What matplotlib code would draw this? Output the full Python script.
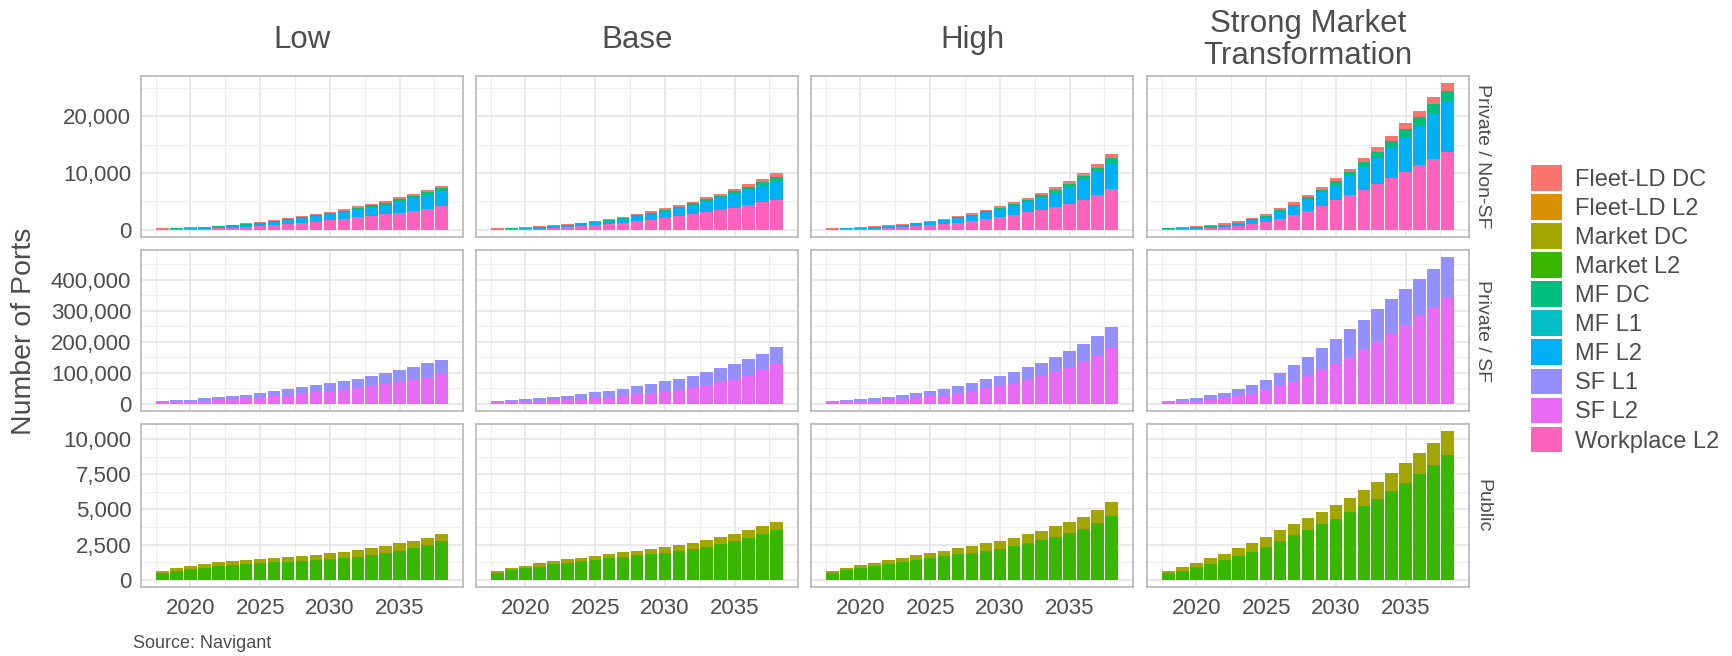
import matplotlib
matplotlib.use("Agg")
import matplotlib.pyplot as plt
from matplotlib.patches import Patch
from matplotlib.ticker import FuncFormatter, MultipleLocator
import numpy as np

plt.rcParams['font.family'] = ['Liberation Sans', 'DejaVu Sans']

# ---------------------------------------------------------------- data
years = list(range(2018, 2039))

scenarios = ["Low", "Base", "High", "Strong Market\nTransformation"]
segments = ["Private / Non-SF", "Private / SF", "Public"]

categories = ["Fleet-LD DC", "Fleet-LD L2", "Market DC", "Market L2", "MF DC",
              "MF L1", "MF L2", "SF L1", "SF L2", "Workplace L2"]
palette = ["#F8766D", "#D89000", "#A3A500", "#39B600", "#00BF7D",
           "#00BFC4", "#00B0F6", "#9590FF", "#E76BF3", "#FF62BC"]

# Private / Non-SF
low_workplace_l2 = [40, 70, 110, 170, 250, 340, 450, 580, 740, 920, 1130, 1370, 1620, 1880, 2150, 2420, 2700, 3000, 3330, 3720, 4120]
low_mf_l2 = [120, 135, 190, 230, 300, 360, 440, 500, 640, 760, 850, 960, 1060, 1210, 1410, 1500, 1690, 1980, 2180, 2420, 2660]
low_mf_dc = [20, 25, 30, 40, 50, 60, 80, 100, 130, 160, 190, 220, 260, 290, 320, 350, 380, 410, 440, 480, 520]
low_fleet_dc = [50, 60, 70, 80, 100, 110, 130, 150, 170, 190, 210, 230, 250, 270, 290, 310, 330, 350, 370, 390, 410]

base_workplace_l2 = [40, 70, 110, 200, 330, 460, 580, 810, 990, 1220, 1450, 1740, 2090, 2430, 2780, 3130, 3540, 3880, 4350, 4810, 5280]
base_mf_l2 = [120, 135, 200, 310, 330, 360, 440, 530, 600, 730, 920, 1110, 1230, 1420, 1580, 1970, 2060, 2500, 2730, 3060, 3360]
base_mf_dc = [20, 25, 30, 40, 50, 60, 70, 80, 100, 120, 140, 170, 200, 230, 270, 310, 350, 400, 470, 560, 700]
base_fleet_dc = [50, 60, 70, 90, 100, 110, 130, 150, 170, 190, 210, 230, 250, 270, 300, 330, 370, 410, 450, 500, 570]

high_workplace_l2 = [40, 70, 110, 190, 320, 450, 590, 800, 1000, 1250, 1530, 1880, 2250, 2650, 3100, 3550, 4050, 4600, 5300, 6150, 7100]
high_mf_l2 = [120, 145, 210, 280, 330, 380, 470, 550, 660, 800, 960, 1150, 1360, 1580, 1840, 2150, 2490, 2960, 3510, 4080, 4730]
high_mf_dc = [20, 25, 30, 40, 50, 60, 70, 90, 110, 140, 170, 200, 240, 280, 330, 380, 440, 520, 610, 720, 850]
high_fleet_dc = [50, 60, 70, 90, 100, 110, 130, 160, 180, 210, 240, 270, 300, 340, 380, 420, 470, 520, 580, 650, 720]

smt_workplace_l2 = [60, 100, 150, 250, 460, 700, 990, 1390, 1970, 2670, 3360, 4230, 5160, 6090, 7010, 8120, 9160, 10200, 11360, 12460, 13620]
smt_mf_l2 = [100, 160, 230, 260, 300, 410, 650, 870, 1200, 1440, 1930, 2340, 2800, 3290, 4010, 4630, 5340, 6200, 7060, 8020, 8990]
smt_mf_dc = [50, 70, 90, 110, 130, 150, 180, 220, 260, 310, 400, 500, 600, 720, 860, 1000, 1140, 1290, 1440, 1620, 1800]
smt_fleet_dc = [90, 130, 170, 190, 210, 240, 270, 300, 340, 390, 450, 520, 600, 680, 760, 850, 940, 1030, 1130, 1260, 1390]

# Private / SF
low_sf_l2 = [4000, 5500, 7000, 9000, 11500, 14000, 17000, 20500, 24000, 28000, 32500, 37000, 42000, 47500, 53000, 58500, 64500, 71000, 78500, 87000, 96300]
low_sf_l1 = [4000, 5000, 6500, 8000, 9500, 11000, 12500, 14000, 16000, 18000, 20000, 22000, 24000, 26000, 28000, 30500, 33500, 36500, 39500, 43000, 46200]

base_sf_l2 = [4000, 5500, 7000, 9000, 11000, 13500, 16500, 19500, 23000, 27000, 31500, 36000, 41500, 47000, 54000, 61500, 69500, 80000, 92000, 108000, 128400]
base_sf_l1 = [4000, 5500, 7000, 8500, 10500, 12500, 14500, 17000, 19500, 22000, 24500, 27500, 30500, 34000, 37000, 40500, 44500, 47000, 52000, 54000, 53600]

high_sf_l2 = [4000, 5500, 7500, 9500, 12500, 15500, 19500, 24000, 29000, 35000, 42000, 50000, 58500, 68000, 78000, 89500, 102000, 117000, 134000, 154000, 178600]
high_sf_l1 = [4000, 5500, 7000, 9000, 10500, 12500, 14500, 17000, 20000, 23000, 26000, 29000, 32500, 36000, 40000, 43500, 48000, 53000, 59000, 65000, 70400]

smt_sf_l2 = [4300, 6400, 9600, 13900, 18200, 25700, 34200, 43900, 57800, 72800, 91000, 110200, 129500, 152000, 175500, 201200, 227900, 254700, 282500, 312500, 343500]
smt_sf_l1 = [4300, 7500, 8600, 12900, 17100, 20300, 25700, 34200, 41700, 51300, 61000, 69600, 80200, 88800, 96300, 104800, 111300, 115600, 120900, 124100, 129500]

# Public
low_market_l2 = [500, 620, 730, 850, 950, 1040, 1110, 1180, 1230, 1280, 1350, 1400, 1470, 1540, 1640, 1730, 1900, 2040, 2250, 2490, 2730]
low_market_dc = [140, 230, 270, 290, 310, 310, 310, 310, 330, 360, 360, 380, 430, 450, 470, 520, 520, 570, 500, 470, 520]

base_market_l2 = [500, 650, 800, 930, 1080, 1190, 1300, 1400, 1510, 1610, 1720, 1820, 1930, 2060, 2200, 2360, 2560, 2770, 3000, 3250, 3520]
base_market_dc = [140, 170, 200, 220, 240, 260, 270, 290, 310, 330, 340, 360, 380, 400, 420, 440, 460, 490, 520, 540, 560]

high_market_l2 = [500, 660, 820, 970, 1120, 1260, 1400, 1530, 1660, 1790, 1910, 2050, 2210, 2380, 2580, 2800, 3040, 3320, 3620, 4060, 4570]
high_market_dc = [140, 170, 200, 230, 260, 300, 330, 370, 410, 450, 490, 530, 570, 610, 650, 700, 750, 800, 860, 910, 930]

smt_market_l2 = [470, 640, 880, 1140, 1370, 1710, 1990, 2350, 2730, 3150, 3530, 3960, 4340, 4790, 5260, 5780, 6350, 6920, 7560, 8200, 8890]
smt_market_dc = [170, 260, 300, 400, 450, 520, 620, 680, 780, 830, 830, 850, 990, 1040, 1140, 1210, 1280, 1370, 1440, 1560, 1680]

# stacks listed bottom -> top
panels = {
    ("Private / Non-SF", 0): [("Workplace L2", low_workplace_l2), ("MF L2", low_mf_l2), ("MF DC", low_mf_dc), ("Fleet-LD DC", low_fleet_dc)],
    ("Private / Non-SF", 1): [("Workplace L2", base_workplace_l2), ("MF L2", base_mf_l2), ("MF DC", base_mf_dc), ("Fleet-LD DC", base_fleet_dc)],
    ("Private / Non-SF", 2): [("Workplace L2", high_workplace_l2), ("MF L2", high_mf_l2), ("MF DC", high_mf_dc), ("Fleet-LD DC", high_fleet_dc)],
    ("Private / Non-SF", 3): [("Workplace L2", smt_workplace_l2), ("MF L2", smt_mf_l2), ("MF DC", smt_mf_dc), ("Fleet-LD DC", smt_fleet_dc)],
    ("Private / SF", 0): [("SF L2", low_sf_l2), ("SF L1", low_sf_l1)],
    ("Private / SF", 1): [("SF L2", base_sf_l2), ("SF L1", base_sf_l1)],
    ("Private / SF", 2): [("SF L2", high_sf_l2), ("SF L1", high_sf_l1)],
    ("Private / SF", 3): [("SF L2", smt_sf_l2), ("SF L1", smt_sf_l1)],
    ("Public", 0): [("Market L2", low_market_l2), ("Market DC", low_market_dc)],
    ("Public", 1): [("Market L2", base_market_l2), ("Market DC", base_market_dc)],
    ("Public", 2): [("Market L2", high_market_l2), ("Market DC", high_market_dc)],
    ("Public", 3): [("Market L2", smt_market_l2), ("Market DC", smt_market_dc)],
}

row_major = [10000, 100000, 2500]

# ---------------------------------------------------------------- layout
W, H = 1733, 656
fig = plt.figure(figsize=(W / 100, H / 100), dpi=100)
fig.patch.set_facecolor("white")

col_x = [141, 476, 811, 1147]
col_w = 322
row_y = [76, 250, 424]
row_h = [161, 161, 163]

text_col = "#4D4D4D"
color_of = dict(zip(categories, palette))


def rect(x0, y0, w, h):
    return [x0 / W, 1 - (y0 + h) / H, w / W, h / H]


fmt = FuncFormatter(lambda v, _: f"{int(round(v)):,}")
x_arr = np.array(years)

for r, seg in enumerate(segments):
    row_max = max(np.sum([v for _, v in panels[(seg, c)]], axis=0).max() for c in range(4))
    for c in range(4):
        ax = fig.add_axes(rect(col_x[c], row_y[r], col_w, row_h[r]))
        bottom = np.zeros(len(years))
        for name, vals in panels[(seg, c)]:
            vals = np.array(vals, dtype=float)
            ax.bar(x_arr, vals, bottom=bottom, width=0.9, color=color_of[name], linewidth=0)
            bottom += vals
        ax.set_xlim(2016.455, 2039.545)
        ax.set_ylim(-0.05 * row_max, 1.05 * row_max)
        ax.xaxis.set_major_locator(MultipleLocator(5))
        ax.xaxis.set_minor_locator(MultipleLocator(2.5))
        ax.yaxis.set_major_locator(MultipleLocator(row_major[r]))
        ax.yaxis.set_minor_locator(MultipleLocator(row_major[r] / 2))
        ax.yaxis.set_major_formatter(fmt)
        ax.set_axisbelow(True)
        ax.grid(which="major", color="#E3E3E3", linewidth=1.1)
        ax.grid(which="minor", color="#EEEEEE", linewidth=0.8)
        for sp in ax.spines.values():
            sp.set_color("#B8B8B8")
            sp.set_linewidth(1.2)
        ax.tick_params(which="both", length=0, labelsize=16, labelcolor=text_col)
        ax.tick_params(axis="y", pad=7)
        ax.tick_params(axis="x", pad=8)
        if c != 0:
            ax.set_yticklabels([])
        if r != 2:
            ax.set_xticklabels([])

# column strip titles
for c, title in enumerate(scenarios):
    fig.text((col_x[c] + col_w / 2) / W, 1 - 40 / H, title, ha="center", va="center",
             fontsize=22.5, color=text_col, linespacing=1.1)

# row strip titles
for r, seg in enumerate(segments):
    fig.text(1483 / W, 1 - (row_y[r] + row_h[r] / 2) / H, seg, rotation=-90,
             ha="center", va="center", fontsize=14, color=text_col)

fig.text(24 / W, 1 - 331 / H, "Number of Ports", rotation=90, ha="center", va="center",
         fontsize=20.5, color=text_col)

fig.text(133 / W, 1 - 644 / H, "Source: Navigant", ha="left", va="center",
         fontsize=13, color=text_col)

handles = [Patch(facecolor=col, edgecolor="none") for col in palette]
leg = fig.legend(handles, categories, loc="upper left", bbox_to_anchor=(1531 / W, 1 - 165 / H),
                 frameon=False, fontsize=17, handlelength=1.3, handleheight=1.3,
                 labelspacing=0.14, handletextpad=0.55, borderpad=0, borderaxespad=0)
for t in leg.get_texts():
    t.set_color(text_col)

fig.savefig("out.png", dpi=100, facecolor="white")
